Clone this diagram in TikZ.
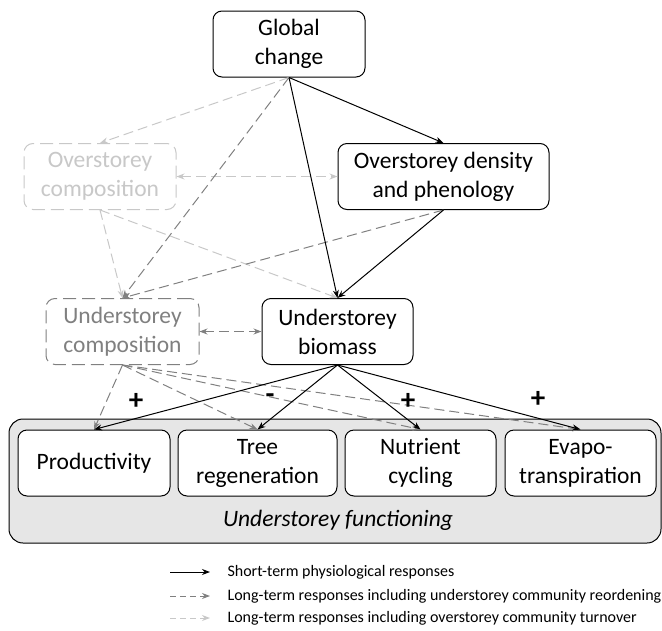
\documentclass[tikz,border=0pt]{standalone}
\usepackage{fontspec}
\setmainfont{Carlito}
\usetikzlibrary{arrows.meta,positioning}
\definecolor{midgrey}{HTML}{808080}
\definecolor{lightgrey}{HTML}{C8C8C8}
\definecolor{panelgrey}{HTML}{E6E6E6}

\begin{document}
\begin{tikzpicture}[x=1pt, y=-1pt,
    box/.style={draw, fill=white, rounded corners=9pt, line width=1pt, align=center,
        inner sep=0pt, minimum height=66pt, font=\fontsize{23.5}{29}\selectfont},
    reorder/.style={draw=midgrey, text=midgrey, dash pattern=on 13pt off 6pt},
    turnover/.style={draw=lightgrey, text=lightgrey, dash pattern=on 13pt off 6pt},
    short/.style={-{Stealth[length=8pt,width=6pt]}, line width=1pt, black},
    long/.style={-{Stealth[length=8pt,width=6pt]}, line width=1pt, midgrey, dash pattern=on 10pt off 5pt},
    longo/.style={-{Stealth[length=8pt,width=6pt]}, line width=1pt, lightgrey, dash pattern=on 10pt off 5pt},
    sign/.style={font=\fontsize{29}{29}\selectfont\bfseries},
    legtext/.style={anchor=west, font=\fontsize{16}{18}\selectfont}]

    \useasboundingbox (0,0) rectangle (662,630);

    % panel of functions
    \node[draw, fill=panelgrey, rounded corners=14pt, line width=1pt,
        minimum width=652pt, minimum height=124pt, inner sep=0pt] (panel) at (335,481) {};
    \node[font=\fontsize{23.5}{28}\selectfont\itshape] (funlab) at (338,520) {Understorey functioning};

    \node[box, minimum width=152pt] (prod) at (94,463) {Productivity};
    \node[box, minimum width=159pt] (tree) at (257.5,463) {Tree\\regeneration};
    \node[box, minimum width=151pt] (nutr) at (420.5,463) {Nutrient\\cycling};
    \node[box, minimum width=151pt] (evap) at (580.5,463) {Evapo-\\transpiration};

    % drivers
    \node[box, minimum width=152pt] (gc) at (289,44) {Global\\change};
    \node[box, turnover, minimum width=152pt] (oc) at (100,176.5) {Overstorey\\composition};
    \node[box, minimum width=211pt] (od) at (443.5,176.5) {Overstorey density\\and phenology};
    \node[box, reorder, minimum width=153pt] (uc) at (122.5,331.5) {Understorey\\composition};
    \node[box, minimum width=151pt] (ub) at (337.5,331.5) {Understorey\\biomass};

    % overstorey turnover
    \draw[longo] (gc.south) -- (oc.north);
    \draw[longo, {Stealth[length=8pt,width=6pt]}-{Stealth[length=8pt,width=6pt]}] (oc.east) -- (od.west);
    \draw[longo] (oc.south) -- (uc.north);
    \draw[longo] (oc.south) -- (ub.north);

    % understorey reordering
    \draw[long] (gc.south) -- (uc.north);
    \draw[long] (od.south) -- (uc.north);
    \draw[long, {Stealth[length=8pt,width=6pt]}-{Stealth[length=8pt,width=6pt]}] (uc.east) -- (ub.west);
    \draw[long] (uc.south) -- (prod.north);
    \draw[long] (uc.south) -- (tree.north);
    \draw[long] (uc.south) -- (nutr.north);
    \draw[long] (uc.south) -- (evap.north);

    % short-term responses
    \draw[short] (gc.south) -- (od.north);
    \draw[short] (gc.south) -- (ub.north);
    \draw[short] (od.south) -- (ub.north);
    \draw[short] (ub.south) -- (prod.north);
    \draw[short] (ub.south) -- (tree.north);
    \draw[short] (ub.south) -- (nutr.north);
    \draw[short] (ub.south) -- (evap.north);

    \node[sign] (s1) at (136,401) {+};
    \node[sign] (s2) at (270,399) {-};
    \node[sign] (s3) at (408,401) {+};
    \node[sign] (s4) at (538,399) {+};

    % legend
    \coordinate (l1a) at (170,572);
    \coordinate (l1b) at (210,572);
    \coordinate (l2a) at (170,596);
    \coordinate (l2b) at (210,596);
    \coordinate (l3a) at (170,618);
    \coordinate (l3b) at (210,618);
    \draw[short] (l1a) -- (l1b);
    \draw[long, dash pattern=on 6pt off 4pt] (l2a) -- (l2b);
    \draw[longo, dash pattern=on 6pt off 4pt] (l3a) -- (l3b);
    \node[legtext] (t1) at (224,572) {Short-term physiological responses};
    \node[legtext] (t2) at (224,596) {Long-term responses including understorey community reordening};
    \node[legtext] (t3) at (224,618) {Long-term responses including overstorey community turnover};

\end{tikzpicture}
\end{document}
